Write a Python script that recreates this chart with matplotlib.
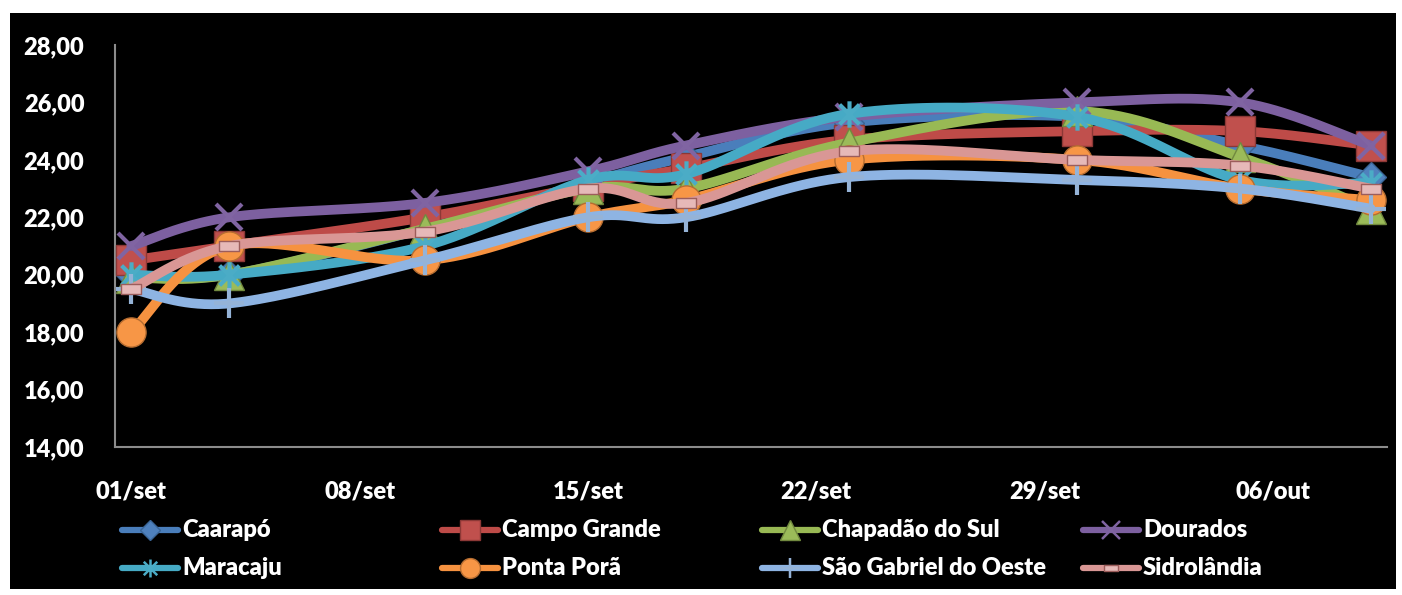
import numpy as np
import pandas as pd
import matplotlib
matplotlib.use("Agg")
import matplotlib.pyplot as plt
from matplotlib.lines import Line2D
from matplotlib.patches import Rectangle
from matplotlib.path import Path

# ---- data -------------------------------------------------------------
dates = ["2013-09-01", "2013-09-04", "2013-09-10", "2013-09-15", "2013-09-18",
         "2013-09-23", "2013-09-30", "2013-10-05", "2013-10-09"]

caarapo = [20.0, 20.0, 21.6, 23.2, 24.1, 25.3, 25.5, 24.5, 23.4]
campo_grande = [20.5, 21.0, 22.0, 23.1, 23.7, 24.7, 25.0, 25.0, 24.5]
chapadao = [19.9, 20.0, 21.6, 23.0, 23.0, 24.6, 25.7, 24.1, 22.3]
dourados = [21.0, 22.0, 22.5, 23.6, 24.5, 25.5, 26.0, 26.0, 24.5]
maracaju = [20.0, 20.0, 21.0, 23.3, 23.5, 25.6, 25.5, 23.3, 23.2]
ponta_pora = [18.0, 21.0, 20.5, 22.0, 22.6, 24.0, 24.0, 23.0, 22.6]
sao_gabriel = [19.5, 19.0, 20.5, 22.0, 22.0, 23.4, 23.3, 23.0, 22.3]
sidrolandia = [19.5, 21.0, 21.5, 23.0, 22.5, 24.3, 24.0, 23.8, 23.0]

series_names = ["Caarapó", "Campo Grande", "Chapadão do Sul", "Dourados",
                "Maracaju", "Ponta Porã", "São Gabriel do Oeste", "Sidrolândia"]
series_values = [caarapo, campo_grande, chapadao, dourados,
                 maracaju, ponta_pora, sao_gabriel, sidrolandia]

tick_dates = ["2013-09-01", "2013-09-08", "2013-09-15", "2013-09-22",
              "2013-09-29", "2013-10-06"]
tick_labels = ["01/set", "08/set", "15/set", "22/set", "29/set", "06/out"]
y_ticks = [14, 16, 18, 20, 22, 24, 26, 28]

# ---- styles -----------------------------------------------------------
star_path = Path([(0, -1), (0, 1), (-0.75, -0.75), (0.75, 0.75),
                  (-0.75, 0.75), (0.75, -0.75)],
                 [Path.MOVETO, Path.LINETO, Path.MOVETO, Path.LINETO,
                  Path.MOVETO, Path.LINETO])
dash_path = Path([(-1, -0.5), (1, -0.5), (1, 0.5), (-1, 0.5), (-1, -0.5)],
                 [Path.MOVETO, Path.LINETO, Path.LINETO, Path.LINETO,
                  Path.CLOSEPOLY])

styles = [
    dict(color="#4A7EBB", marker="D", ms=15, mfc="#4F81BD", mec="#3A6596", mew=1),
    dict(color="#BE4B48", marker="s", ms=21, mfc="#C0504D", mec="#8C3836", mew=1),
    dict(color="#98B954", marker="^", ms=21, mfc="#9BBB59", mec="#71893F", mew=1),
    dict(color="#7D60A0", marker="x", ms=19, mfc="#8064A2", mec="#8064A2", mew=3),
    dict(color="#46AAC5", marker=star_path, ms=19, mfc="#4BACC6", mec="#4BACC6", mew=3),
    dict(color="#F69240", marker="o", ms=21, mfc="#F79646", mec="#B66D31", mew=1),
    dict(color="#8EB4E3", marker="+", ms=21, mfc="#95B3D7", mec="#95B3D7", mew=3),
    dict(color="#D99795", marker=dash_path, ms=14, mfc="#E6B9B8", mec="#9C5D5B", mew=1),
]


def smooth_curve(x, y, n=40):
    """Bezier smoothing through every point (Catmull-Rom control points)."""
    pts = np.column_stack([x, y]).astype(float)
    out = []
    for i in range(len(pts) - 1):
        p0 = pts[max(i - 1, 0)]
        p1 = pts[i]
        p2 = pts[i + 1]
        p3 = pts[min(i + 2, len(pts) - 1)]
        c1 = p1 + (p2 - p0) / 6.0
        c2 = p2 - (p3 - p1) / 6.0
        t = np.linspace(0, 1, n)[:, None]
        seg = ((1 - t) ** 3) * p1 + 3 * ((1 - t) ** 2) * t * c1 \
            + 3 * (1 - t) * t ** 2 * c2 + t ** 3 * p2
        out.append(seg if i == 0 else seg[1:])
    seg = np.vstack(out)
    return seg[:, 0], seg[:, 1]


plt.rcParams["font.family"] = ["Lato", "DejaVu Sans"]
FS = 17
FW = "heavy"

W, H = 1402, 595
fig = plt.figure(figsize=(W / 100, H / 100), dpi=100, facecolor="white")
fig.add_artist(Rectangle((10 / W, 1 - 589 / H), 1386 / W, 576 / H,
                         transform=fig.transFigure, facecolor="black",
                         edgecolor="none", zorder=-10))

ax = fig.add_axes([115 / W, 1 - 447 / H, 1272 / W, 402 / H])
ax.set_facecolor("none")

origin = pd.Timestamp("2013-08-31")
x_days = np.array([(pd.Timestamp(d) - origin).days for d in dates], dtype=float)
tick_days = [(pd.Timestamp(d) - origin).days for d in tick_dates]

for i, (name, vals, st) in enumerate(zip(series_names, series_values, styles)):
    sx, sy = smooth_curve(x_days, vals)
    z = 2 + i
    ax.plot(sx, sy, color=st["color"], lw=7, solid_capstyle="round", zorder=z)
    ax.plot(x_days, vals, ls="none", marker=st["marker"], ms=st["ms"],
            mfc=st["mfc"], mec=st["mec"], mew=st["mew"], zorder=z + 0.5)

ax.set_xlim(0.5, 39.5)
ax.set_ylim(14, 28)
ax.set_yticks(y_ticks)
ax.set_yticklabels([f"{v:.2f}".replace(".", ",") for v in y_ticks])
ax.set_xticks(tick_days)
ax.set_xticklabels(tick_labels)
ax.tick_params(axis="both", length=0, colors="white", labelsize=FS)
ax.tick_params(axis="y", pad=22)
ax.tick_params(axis="x", pad=24)
for lab in ax.get_xticklabels() + ax.get_yticklabels():
    lab.set_fontweight(FW)
for s in ["top", "right"]:
    ax.spines[s].set_visible(False)
for s in ["left", "bottom"]:
    ax.spines[s].set_color("#8C8C8C")
    ax.spines[s].set_linewidth(1.5)

# ---- legend (4 columns x 2 rows) ---------------------------------------
col_x = [122, 442, 762, 1083]
row_y = [530, 568]
for i, (name, st) in enumerate(zip(series_names, styles)):
    r, c = divmod(i, 4)
    x0 = col_x[c] / W
    x1 = (col_x[c] + 56) / W
    y = 1 - row_y[r] / H
    fig.add_artist(Line2D([x0, x1], [y, y], transform=fig.transFigure,
                          color=st["color"], lw=4.5, solid_capstyle="round"))
    fig.add_artist(Line2D([(x0 + x1) / 2], [y], transform=fig.transFigure,
                          ls="none", marker=st["marker"], ms=st["ms"] * 0.68,
                          mfc=st["mfc"], mec=st["mec"], mew=max(st["mew"] * 0.6, 1)))
    fig.text((col_x[c] + 60) / W, y, name, color="white", fontsize=FS,
             fontweight=FW, va="center", ha="left")

fig.savefig("out.png", dpi=100, facecolor="white")
